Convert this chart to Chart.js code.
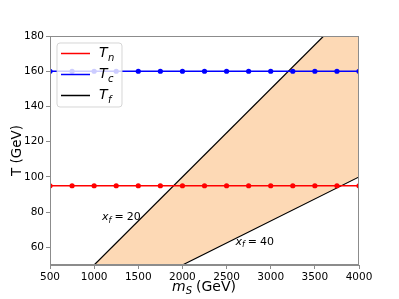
<!DOCTYPE html>
<html lang="en">
<head>
    <meta charset="utf-8">
    <title>Tn Tc Tf vs mS</title>
    <script src="https://cdn.jsdelivr.net/npm/chart.js@4.4.0/dist/chart.umd.min.js"></script>
    <style>
        html, body { margin: 0; padding: 0; background: #fff; }
        #wrap { width: 399px; height: 299px; }
    </style>
</head>
<body>
    <div id="wrap"><canvas id="chart" width="399" height="299"></canvas></div>
    <script>
        // data
        let mS = [500, 750, 1000, 1250, 1500, 1750, 2000, 2250, 2500, 2750, 3000, 3250, 3500, 3750, 4000];
        let Tn = [95, 95, 95, 95, 95, 95, 95, 95, 95, 95, 95, 95, 95, 95, 95];
        let Tc = [160, 160, 160, 160, 160, 160, 160, 160, 160, 160, 160, 160, 160, 160, 160];
        // Tf lines for xf = 20 and xf = 40 (end points inside the frame)
        let xf20_m = [1000, 3600];
        let xf20_T = [50, 180];
        let xf40_m = [2000, 4000];
        let xf40_T = [50, 100];
        // shaded band between the two Tf lines
        let band_m = [1000, 3600, 4000, 4000, 2000, 1000];
        let band_T = [50, 180, 180, 100, 50, 50];
        let xTicks = [500, 1000, 1500, 2000, 2500, 3000, 3500, 4000];
        let yTicks = [60, 80, 100, 120, 140, 160, 180];

        function pts(xs, ys) {
            return xs.map((x, i) => ({ x: x, y: ys[i] }));
        }

        const FONT = "'DejaVu Sans', sans-serif";

        // frame, legend, text labels (matplotlib look)
        const extras = {
            id: 'extras',
            afterDatasetsDraw(chart) {
                const ctx = chart.ctx;
                const a = chart.chartArea;
                const sx = chart.scales.x, sy = chart.scales.y;
                ctx.save();

                // frame
                ctx.strokeStyle = '#8c8c8c';
                ctx.lineWidth = 1;
                ctx.strokeRect(a.left + 0.5, a.top + 0.5, a.right - a.left - 1, a.bottom - a.top - 1);

                // inline labels
                function xfLabel(m, T, num) {
                    let px = sx.getPixelForValue(m), py = sy.getPixelForValue(T);
                    ctx.fillStyle = '#000';
                    ctx.textBaseline = 'alphabetic';
                    ctx.font = 'italic 11px ' + FONT;
                    ctx.fillText('x', px, py);
                    px += ctx.measureText('x').width;
                    ctx.font = 'italic 8px ' + FONT;
                    ctx.fillText('f', px, py + 2.5);
                    px += ctx.measureText('f').width + 3;
                    ctx.font = '11px ' + FONT;
                    ctx.fillText('=', px, py);
                    px += ctx.measureText('=').width + 3;
                    ctx.fillText(String(num), px, py);
                }
                xfLabel(1090, 75.5, 20);
                xfLabel(2600, 61.5, 40);

                // legend
                let lx = 57, ly = 43, lw = 65, lh = 64, r = 3;
                ctx.beginPath();
                ctx.moveTo(lx + r, ly);
                ctx.arcTo(lx + lw, ly, lx + lw, ly + lh, r);
                ctx.arcTo(lx + lw, ly + lh, lx, ly + lh, r);
                ctx.arcTo(lx, ly + lh, lx, ly, r);
                ctx.arcTo(lx, ly, lx + lw, ly, r);
                ctx.closePath();
                ctx.fillStyle = 'rgba(255,255,255,0.8)';
                ctx.fill();
                ctx.strokeStyle = 'rgba(204,204,204,0.8)';
                ctx.lineWidth = 1;
                ctx.stroke();

                let entries = [['#ff0000', 'n'], ['#0000ff', 'c'], ['#000000', 'f']];
                entries.forEach((e, i) => {
                    let yy = 53.5 + i * 21;
                    ctx.strokeStyle = e[0];
                    ctx.lineWidth = 1.5;
                    ctx.beginPath();
                    ctx.moveTo(61, yy);
                    ctx.lineTo(90, yy);
                    ctx.stroke();
                    ctx.fillStyle = '#000';
                    ctx.textBaseline = 'middle';
                    ctx.font = 'italic 14px ' + FONT;
                    ctx.fillText('T', 99, yy);
                    ctx.font = 'italic 10px ' + FONT;
                    ctx.fillText(e[1], 108, yy + 5);
                });

                // x title
                ctx.fillStyle = '#000';
                ctx.textBaseline = 'alphabetic';
                let tx = 172, ty = 291;
                ctx.font = 'italic 14px ' + FONT;
                ctx.fillText('m', tx, ty);
                tx += ctx.measureText('m').width;
                ctx.font = 'italic 10px ' + FONT;
                ctx.fillText('S', tx, ty + 3);
                tx += ctx.measureText('S').width + 4;
                ctx.font = '14px ' + FONT;
                ctx.fillText('(GeV)', tx, ty);

                // y title
                ctx.translate(17, (a.top + a.bottom) / 2);
                ctx.rotate(-Math.PI / 2);
                ctx.textAlign = 'center';
                ctx.textBaseline = 'middle';
                ctx.font = '13.5px ' + FONT;
                ctx.fillText('T (GeV)', 0, 0);
                ctx.restore();
            }
        };

        new Chart(document.getElementById('chart'), {
            type: 'scatter',
            data: {
                datasets: [
                    {
                        label: 'Tn',
                        data: pts(mS, Tn),
                        showLine: true,
                        borderColor: '#ff0000',
                        backgroundColor: '#ff0000',
                        borderWidth: 1.5,
                        pointRadius: 2.6,
                        pointBorderWidth: 0
                    },
                    {
                        label: 'Tc',
                        data: pts(mS, Tc),
                        showLine: true,
                        borderColor: '#0000ff',
                        backgroundColor: '#0000ff',
                        borderWidth: 1.5,
                        pointRadius: 2.6,
                        pointBorderWidth: 0
                    },
                    {
                        label: 'Tf xf=20',
                        data: pts(xf20_m, xf20_T),
                        showLine: true,
                        borderColor: '#000',
                        borderWidth: 1.2,
                        pointRadius: 0
                    },
                    {
                        label: 'Tf xf=40',
                        data: pts(xf40_m, xf40_T),
                        showLine: true,
                        borderColor: '#000',
                        borderWidth: 1.2,
                        pointRadius: 0
                    },
                    {
                        label: 'band',
                        data: pts(band_m, band_T),
                        showLine: true,
                        borderWidth: 0,
                        borderColor: 'rgba(0,0,0,0)',
                        backgroundColor: '#fdd9b5',
                        fill: 'shape',
                        pointRadius: 0
                    }
                ]
            },
            options: {
                responsive: false,
                animation: false,
                layout: { padding: { top: 36, right: 40, left: 0, bottom: 0 } },
                plugins: {
                    legend: { display: false },
                    tooltip: { enabled: false }
                },
                scales: {
                    x: {
                        type: 'linear',
                        min: 500,
                        max: 4000,
                        afterBuildTicks: s => { s.ticks = xTicks.map(v => ({ value: v })); },
                        afterFit: s => { s.height = 34; },
                        grid: { display: true, drawOnChartArea: false, drawTicks: true, tickLength: 4, color: '#8c8c8c' },
                        border: { display: true, color: '#8c8c8c' },
                        ticks: { color: '#000', font: { family: FONT, size: 10.5 }, padding: 2, maxRotation: 0, callback: v => String(v) }
                    },
                    y: {
                        type: 'linear',
                        min: 50,
                        max: 180,
                        afterBuildTicks: s => { s.ticks = yTicks.map(v => ({ value: v })); },
                        afterFit: s => { s.width = 50; },
                        grid: { display: true, drawOnChartArea: false, drawTicks: true, tickLength: 4, color: '#8c8c8c' },
                        border: { display: true, color: '#8c8c8c' },
                        ticks: { color: '#000', font: { family: FONT, size: 10.5 }, padding: 2, callback: v => String(v) }
                    }
                }
            },
            plugins: [extras]
        });
    </script>
</body>
</html>
